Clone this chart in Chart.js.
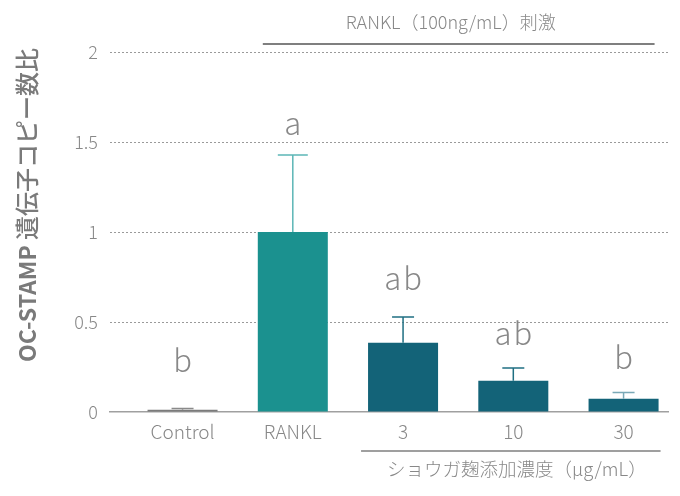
<!DOCTYPE html>
<html>
<head>
<meta charset="utf-8">
<script src="https://cdn.jsdelivr.net/npm/chart.js@4.4.0/dist/chart.umd.min.js"></script>
<style>
  html, body { margin: 0; padding: 0; background: #fff; }
  #wrap { width: 680px; height: 496px; position: relative; }
</style>
</head>
<body>
<div id="wrap"><canvas id="c"></canvas></div>
<script>
// data
const groups = ['Control', 'RANKL', '3', '10', '30'];
const means = [0.013, 1.0, 0.385, 0.174, 0.074];
const errors = [0.006, 0.428, 0.143, 0.07, 0.034];
const sigLetters = ['b', 'a', 'ab', 'ab', 'b'];
const yTicks = [0, 0.5, 1, 1.5, 2];

const barColors = ['#7b7b7b', '#1b918f', '#136378', '#136378', '#136378'];
const errColors = ['#8a8a8a', '#5cb6b6', '#1f6f82', '#1f6f82', '#7aa9b7'];
const grey = '#888888';
const jp = '"Noto Sans CJK JP", "Noto Sans", sans-serif';

const errorBars = {
  id: 'errorBars',
  afterDatasetsDraw(chart, args, opts) {
    const { ctx, scales: { y } } = chart;
    const meta = chart.getDatasetMeta(0);
    ctx.save();
    meta.data.forEach((bar, i) => {
      const top = y.getPixelForValue(means[i] + errors[i]);
      const cap = opts.caps[i] / 2;
      ctx.strokeStyle = errColors[i];
      ctx.lineWidth = 1.5;
      ctx.beginPath();
      ctx.moveTo(bar.x, bar.y);
      ctx.lineTo(bar.x, top);
      ctx.moveTo(bar.x - cap, top);
      ctx.lineTo(bar.x + cap, top);
      ctx.stroke();
      // significance letter
      ctx.fillStyle = grey;
      ctx.font = '300 31px ' + jp;
      ctx.textAlign = 'center';
      ctx.textBaseline = 'middle';
      ctx.fillText(sigLetters[i].split('').join(String.fromCharCode(8202)), bar.x, top - opts.lift[i]);
    });
    ctx.restore();
  }
};

const annotations = {
  id: 'annotations',
  afterDraw(chart) {
    const { ctx, scales: { x } } = chart;
    ctx.save();
    ctx.strokeStyle = '#7f7f7f';
    ctx.lineWidth = 2;
    // RANKL stimulation bracket
    const x1 = x.getPixelForValue(1) - 30, x2 = x.getPixelForValue(4) + 31;
    ctx.beginPath(); ctx.moveTo(x1, 44); ctx.lineTo(x2, 44); ctx.stroke();
    ctx.fillStyle = grey;
    ctx.font = '300 18px ' + jp;
    ctx.textAlign = 'center';
    ctx.textBaseline = 'middle';
    ctx.fillText('RANKL（100ng/mL）刺激', (x1 + x2) / 2 - 8, 22);
    // ginger koji concentration bracket
    const x3 = x.getPixelForValue(2) - 42, x4 = x.getPixelForValue(4) + 37;
    ctx.lineWidth = 1.5;
    ctx.beginPath(); ctx.moveTo(x3, 451); ctx.lineTo(x4, 451); ctx.stroke();
    ctx.font = '300 18.5px ' + jp;
    ctx.fillText('ショウガ麹添加濃度（μg/mL）', (x3 + x4) / 2 + 6, 469);
    // y axis title, latin part bold, kanji part medium
    const a = 'OC-STAMP ', b = '遺伝子コピー数比';
    ctx.font = 'bold 23px ' + jp;
    const wa = ctx.measureText(a).width;
    ctx.font = '500 24px ' + jp;
    const wb = ctx.measureText(b).width;
    ctx.translate(27, 205);
    ctx.rotate(-Math.PI / 2);
    ctx.fillStyle = '#7a7a7a';
    ctx.textAlign = 'left';
    const start = -(wa + wb) / 2;
    ctx.font = 'bold 23px ' + jp;
    ctx.fillText(a, start, 0);
    ctx.font = '500 24px ' + jp;
    ctx.fillText(b, start + wa, 0);
    ctx.restore();
  }
};

new Chart(document.getElementById('c'), {
  type: 'bar',
  data: {
    datasets: [{
      data: means.map((v, i) => ({ x: i, y: v })),
      backgroundColor: barColors,
      barPercentage: 0.635,
      categoryPercentage: 1
    }]
  },
  options: {
    responsive: true,
    maintainAspectRatio: false,
    animation: false,
    layout: { padding: { top: 52, right: 12, left: 0, bottom: 0 } },
    plugins: {
      legend: { display: false },
      tooltip: { enabled: false },
      errorBars: { caps: [22, 30, 22, 22, 22], lift: [48, 32, 39, 35, 35] }
    },
    scales: {
      x: {
        type: 'linear',
        offset: false,
        min: -0.658, max: 4.403,
        afterFit: s => { s.height = 84; },
        afterBuildTicks: s => { s.ticks = groups.map((g, i) => ({ value: i })); },
        grid: { display: false },
        border: { display: true, color: '#a0a0a0', width: 1.5 },
        ticks: { color: grey, font: { family: jp, size: 19, weight: 300 }, padding: 0, callback: v => groups[v] }
      },
      y: {
        min: 0, max: 2,
        afterFit: s => { s.width = 110; },
        afterBuildTicks: s => { s.ticks = yTicks.map(v => ({ value: v })); },
        border: { display: false, dash: [2, 2] },
        grid: { color: c => c.tick.value === 0 ? 'rgba(0,0,0,0)' : '#9a9a9a', lineWidth: 1, drawTicks: false },
        ticks: { color: grey, font: { family: jp, size: 18, weight: 300 }, padding: 12, callback: v => String(v) }
      }
    }
  },
  plugins: [errorBars, annotations]
});
</script>
</body>
</html>
